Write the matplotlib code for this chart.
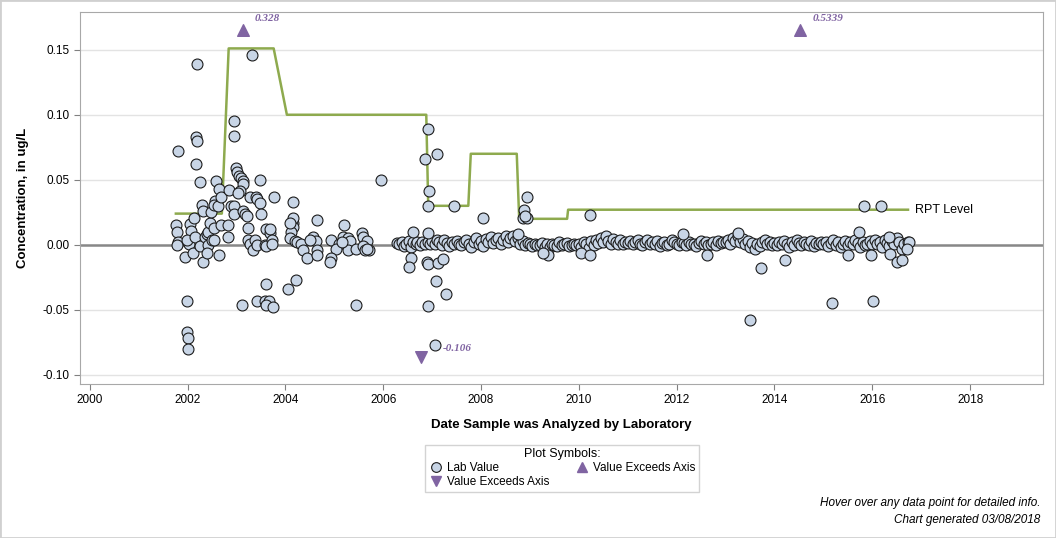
import matplotlib.pyplot as plt
from matplotlib.patches import Rectangle
from matplotlib.lines import Line2D
import numpy as np

plt.rcParams['font.family'] = ['Liberation Sans', 'DejaVu Sans']

# early scattered results 2001-2006 (decimal year, ug/L)
early_dates = [2001.80, 2001.76, 2001.78, 2001.80, 2001.78, 2001.94, 2001.99, 2001.99, 2002.01, 2002.01,
               2002.04, 2002.07, 2002.02, 2001.99, 2002.11, 2002.14, 2002.15, 2002.17, 2002.19, 2002.17,
               2002.20, 2002.25, 2002.26, 2002.30, 2002.32, 2002.32, 2002.35, 2002.40, 2002.42, 2002.42,
               2002.40, 2002.45, 2002.47, 2002.49, 2002.54, 2002.54, 2002.56, 2002.54, 2002.58, 2002.62,
               2002.64, 2002.64, 2002.68, 2002.69, 2002.82, 2002.83, 2002.85, 2002.88, 2002.95, 2002.95,
               2002.95, 2002.95, 2002.99, 2003.01, 2003.05, 2003.09, 2003.13, 2003.14, 2003.07, 2003.03,
               2003.13, 2003.18, 2003.21, 2003.24, 2003.24, 2003.27, 2003.28, 2003.32, 2003.34, 2003.37,
               2003.39, 2003.42, 2003.42, 2003.49, 2003.48, 2003.50, 2003.58, 2003.61, 2003.61, 2003.68,
               2003.69, 2003.72, 2003.73, 2003.76, 2003.11, 2003.42, 2003.58, 2003.66, 2003.61, 2003.74,
               2003.61, 2004.16, 2004.15, 2004.11, 2004.09, 2004.19, 2004.22, 2004.06, 2004.16, 2004.16,
               2004.09, 2004.23, 2004.31, 2004.36, 2004.44, 2004.57, 2004.62, 2004.64, 2004.64, 2004.50,
               2004.65, 2004.93, 2005.10, 2005.04, 2005.18, 2005.28, 2005.32, 2005.28, 2004.93, 2004.91,
               2005.15, 2005.20, 2005.45, 2005.56, 2005.59, 2005.67, 2005.71, 2005.58, 2005.62, 2005.66,
               2005.45, 2005.95]
early_vals = [0.072, 0.015, 0.010, 0.002, 0.000, -0.009, -0.043, -0.067, -0.072, -0.080,
              0.016, 0.011, 0.001, 0.004, -0.006, 0.021, 0.006, 0.083, 0.080, 0.062,
              0.139, 0.048, -0.001, 0.031, 0.026, -0.013, 0.006, 0.008, 0.010, 0.000,
              -0.006, 0.017, 0.025, 0.004, 0.013, 0.004, 0.034, 0.031, 0.049, 0.030,
              0.043, -0.008, 0.015, 0.037, 0.015, 0.006, 0.042, 0.030, 0.030, 0.024,
              0.095, 0.084, 0.059, 0.056, 0.053, 0.051, 0.049, 0.047, 0.041, 0.040,
              0.026, 0.024, 0.022, 0.013, 0.004, 0.001, 0.037, 0.146, -0.004, 0.004,
              0.037, 0.035, 0.000, 0.032, 0.050, 0.024, 0.000, 0.012, -0.001, 0.009,
              0.012, 0.004, 0.001, 0.037, -0.046, -0.043, -0.043, -0.043, -0.046, -0.048,
              -0.030, 0.017, 0.014, 0.010, 0.005, 0.003, -0.027, -0.034, 0.033, 0.021,
              0.017, 0.002, 0.001, -0.004, -0.010, 0.006, 0.003, -0.004, -0.008, 0.004,
              0.019, 0.004, 0.001, -0.003, 0.006, 0.005, 0.003, -0.004, -0.010, -0.013,
              0.002, 0.015, -0.003, 0.009, 0.006, 0.003, -0.004, -0.001, -0.004, -0.003,
              -0.046, 0.050]

# routine results 2006-2016 near zero (decimal year, thousandths of ug/L)
band_dates = [2006.28, 2006.33, 2006.38, 2006.42, 2006.47, 2006.52, 2006.56, 2006.61, 2006.66, 2006.70,
              2006.75, 2006.80, 2006.86, 2006.91, 2006.96,
              2007.00, 2007.05, 2007.10, 2007.15, 2007.20, 2007.25, 2007.30, 2007.35, 2007.40, 2007.45,
              2007.50, 2007.55, 2007.60, 2007.65, 2007.70, 2007.75, 2007.80, 2007.85, 2007.90, 2007.95,
              2008.00, 2008.05, 2008.10, 2008.15, 2008.20, 2008.25, 2008.30, 2008.35, 2008.40, 2008.45,
              2008.50, 2008.55, 2008.60, 2008.65, 2008.70, 2008.75, 2008.80, 2008.85, 2008.90, 2008.95,
              2009.00, 2009.05, 2009.10, 2009.15, 2009.20, 2009.25, 2009.30, 2009.35, 2009.40, 2009.45,
              2009.50, 2009.55, 2009.60, 2009.65, 2009.70, 2009.75, 2009.80, 2009.85, 2009.90, 2009.95,
              2010.00, 2010.05, 2010.10, 2010.15, 2010.20, 2010.25, 2010.30, 2010.35, 2010.40, 2010.45,
              2010.50, 2010.55, 2010.60, 2010.65, 2010.70, 2010.75, 2010.80, 2010.85, 2010.90, 2010.95,
              2011.00, 2011.05, 2011.10, 2011.15, 2011.20, 2011.25, 2011.30, 2011.35, 2011.40, 2011.45,
              2011.50, 2011.55, 2011.60, 2011.65, 2011.70, 2011.75, 2011.80, 2011.85, 2011.90, 2011.95,
              2012.00, 2012.05, 2012.10, 2012.15, 2012.20, 2012.25, 2012.30, 2012.35, 2012.40, 2012.45,
              2012.50, 2012.55, 2012.60, 2012.65, 2012.70, 2012.75, 2012.80, 2012.85, 2012.90, 2012.95,
              2013.00, 2013.05, 2013.10, 2013.15, 2013.20, 2013.25, 2013.30, 2013.35, 2013.40, 2013.45,
              2013.50, 2013.55, 2013.60, 2013.65, 2013.70, 2013.75, 2013.80, 2013.85, 2013.90, 2013.95,
              2014.00, 2014.05, 2014.10, 2014.15, 2014.20, 2014.25, 2014.30, 2014.35, 2014.40, 2014.45,
              2014.50, 2014.55, 2014.60, 2014.65, 2014.70, 2014.75, 2014.80, 2014.85, 2014.90, 2014.95,
              2015.00, 2015.05, 2015.10, 2015.15, 2015.20, 2015.25, 2015.30, 2015.35, 2015.40, 2015.45,
              2015.50, 2015.55, 2015.60, 2015.65, 2015.70, 2015.75, 2015.80, 2015.85, 2015.90, 2015.95,
              2016.00, 2016.05, 2016.10, 2016.15, 2016.20, 2016.25, 2016.30, 2016.35, 2016.40, 2016.45,
              2016.50, 2016.55, 2016.60, 2016.65, 2016.72]
band_milli = [1.5, 0.5, 2.5, -0.8, 1.0, 3.0, -1.5, 2.0, 0.8, 1.8,
              -0.5, 2.2, 1.0, 2.5, 0.5,
              3.0, 1.0, 4.0, 2.0, 0.0, 3.5, 1.5, -1.0, 2.5, 0.5,
              3.0, 1.0, -0.5, 2.0, 4.0, 0.5, -1.5, 2.5, 5.0, 1.0,
              3.0, -1.0, 4.5, 2.0, 6.0, 1.5, 3.5, 5.5, 0.5, 4.0,
              6.5, 2.0, 5.0, 7.0, 3.0, 5.5, 1.0, 3.0, -0.5, 1.5,
              0.5, -1.0, 1.0, -0.5, 0.0, 1.5, -1.5, 0.5, -2.0, 1.0,
              0.0, -1.0, 2.0, -0.5, 0.5, 1.5, -1.0, 0.0, 1.0, -0.5,
              0.5, -1.5, 2.0, 1.0, -2.5, 3.0, 0.0, 4.0, 1.5, 5.0,
              2.5, 6.5, 3.0, 1.0, 4.5, 2.0, 0.5, 3.5, 1.0, 2.5,
              1.5, 3.0, 0.5, 2.0, 4.0, 1.0, -0.5, 2.5, 3.5, 0.5,
              2.0, 1.0, 3.0, -1.0, 1.5, 2.5, 0.0, 1.0, 3.5, 2.0,
              1.0, 0.0, 2.0, 1.5, -0.5, 2.5, 1.0, 0.5, -1.0, 1.5,
              3.0, 0.5, 2.0, -0.5, 1.0, 2.5, 0.0, 3.0, 1.5, 2.0,
              2.5, 4.0, 1.0, 5.5, 3.0, 6.5, 2.0, 4.5, 0.5, 3.0,
              -2.0, 1.5, -3.5, 0.5, -1.0, 2.0, 3.5, 1.0, 2.5, 0.0,
              1.5, -0.5, 2.5, 0.5, 3.0, 1.0, -1.5, 2.0, 0.0, 4.0,
              1.5, -0.5, 2.5, 1.0, 0.0, 3.0, -1.0, 1.5, 0.5, 2.0,
              0.5, 2.0, -1.0, 1.5, 3.5, 0.0, 2.5, -2.0, 1.0, 3.0,
              -0.5, 2.0, 0.5, 4.0, 1.5, -1.5, 2.5, 0.0, 1.0, 3.0,
              1.0, 3.5, 0.5, 2.0, -2.0, 4.0, 1.5, -1.0, 3.0, 0.5,
              5.5, 2.0, -3.0, 1.0, 2.5]

# later outliers
late_dates = [2006.85, 2006.92, 2007.10, 2006.94, 2006.92, 2007.45, 2008.04, 2008.93, 2008.88, 2008.85,
              2008.94, 2008.90, 2006.61, 2006.91, 2006.56, 2006.52, 2006.90, 2006.91, 2007.12, 2007.22,
              2007.08, 2007.28, 2006.92, 2007.06, 2008.76, 2009.37, 2009.27, 2010.22, 2010.05, 2010.22,
              2012.13, 2013.26, 2012.61, 2013.72, 2014.21, 2013.50, 2015.83, 2016.17, 2015.72, 2015.17,
              2016.02, 2016.34, 2016.36, 2016.51, 2016.61, 2016.74, 2016.70, 2015.98, 2015.51]
late_vals = [0.066, 0.089, 0.070, 0.041, 0.030, 0.030, 0.021, 0.037, 0.027, 0.021,
             0.021, 0.022, 0.010, 0.009, -0.010, -0.017, -0.013, -0.015, -0.014, -0.011,
             -0.028, -0.038, -0.047, -0.077, 0.008, -0.008, -0.006, 0.023, -0.006, -0.008,
             0.008, 0.009, -0.008, -0.018, -0.012, -0.058, 0.030, 0.030, 0.010, -0.045,
             -0.043, 0.006, -0.007, -0.013, -0.012, 0.002, -0.003, -0.008, -0.008]

# values off the axis
up_dates = [2003.13, 2014.52]
up_vals = ['0.328', '0.5339']
down_dates = [2006.77]
down_vals = ['-0.106']

# reporting level
rpt_dates = [2001.76, 2002.70, 2002.84, 2003.76, 2004.03, 2006.88, 2006.92, 2007.74, 2007.79,
             2008.73, 2008.78, 2009.76, 2009.78, 2016.73]
rpt_vals = [0.024, 0.024, 0.151, 0.151, 0.100, 0.100, 0.030, 0.030, 0.070,
            0.070, 0.020, 0.020, 0.027, 0.027]

xticks = list(range(2000, 2019, 2))
yticks = [-0.10, -0.05, 0.00, 0.05, 0.10, 0.15]

face = '#c8d5e6'
purple = '#8064a2'
green = '#8eaa4e'

fig = plt.figure(figsize=(10.56, 5.38), dpi=100)
ax = fig.add_axes([80 / 1056, 1 - 384 / 538, 963 / 1056, 372 / 538])
ymin, ymax = -0.107, 0.179
ax.set_xlim(1999.8, 2019.49)
ax.set_ylim(ymin, ymax)

ax.set_yticks(yticks)
ax.set_yticklabels(['%.2f' % v for v in yticks])
ax.set_xticks(xticks)
ax.yaxis.grid(True, color='#e3e3e3', lw=1)
ax.set_axisbelow(True)
ax.tick_params(labelsize=8.5, color='#808080', length=4)
for s in ax.spines.values():
    s.set_color('#a8a8a8')

ax.axhline(0, color='#888888', lw=1.8, zorder=1)
ax.plot(rpt_dates, rpt_vals, color=green, lw=1.8, zorder=2)
ax.text(rpt_dates[-1] + 0.15, rpt_vals[-1], 'RPT Level', fontsize=9, va='center')

all_dates = early_dates + band_dates + late_dates
all_vals = early_vals + [m / 1000 for m in band_milli] + late_vals
ax.scatter(all_dates, all_vals, s=62, facecolor=face, edgecolor='#1c1c1c', lw=0.8, zorder=3)

y_up = ymax - 0.0135
y_dn = ymin + 0.0205
ax.scatter(up_dates, [y_up] * len(up_dates), marker='^', s=70, color=purple, zorder=4)
for d, lab in zip(up_dates, up_vals):
    ax.text(d + 0.25, y_up + 0.005, lab, color=purple, fontsize=8, fontweight='bold',
            style='italic', family='Liberation Serif', va='bottom')
ax.scatter(down_dates, [y_dn] * len(down_dates), marker='v', s=70, color=purple, zorder=4)
for d, lab in zip(down_dates, down_vals):
    ax.text(d + 0.45, y_dn + 0.003, lab, color=purple, fontsize=8, fontweight='bold',
            style='italic', family='Liberation Serif', va='bottom')

ax.set_ylabel('Concentration, in ug/L', fontsize=9.5, fontweight='bold', labelpad=10)
ax.set_xlabel('Date Sample was Analyzed by Laboratory', fontsize=9.5, fontweight='bold', labelpad=9)

handles = [
    Line2D([], [], ls='none', marker='o', ms=7, mfc=face, mec='#1c1c1c', mew=0.8),
    Line2D([], [], ls='none', marker='v', ms=7, color=purple),
    Line2D([], [], ls='none', marker='^', ms=7, color=purple),
]
labels = ['Lab Value', 'Value Exceeds Axis', 'Value Exceeds Axis']
leg = fig.legend(handles, labels, title='Plot Symbols:', ncol=2, loc='upper center',
                 bbox_to_anchor=(562 / 1056, 1 - 439 / 538), fontsize=8.5, title_fontsize=9,
                 frameon=True, fancybox=False, edgecolor='#c8c8c8', borderpad=0.3,
                 handletextpad=0.3, columnspacing=2.2, labelspacing=0.15, handlelength=1.2)
leg.get_frame().set_linewidth(1)

fig.text(1040 / 1056, 1 - 503 / 538, 'Hover over any data point for detailed info.',
         ha='right', va='center', fontsize=8.5, style='italic')
fig.text(1040 / 1056, 1 - 520 / 538, 'Chart generated 03/08/2018',
         ha='right', va='center', fontsize=8.5, style='italic')

fig.patches.append(Rectangle((0, 0), 1, 1, transform=fig.transFigure, fill=False,
                             edgecolor='#d0d0d0', lw=2))

fig.savefig('out.png', dpi=100)
